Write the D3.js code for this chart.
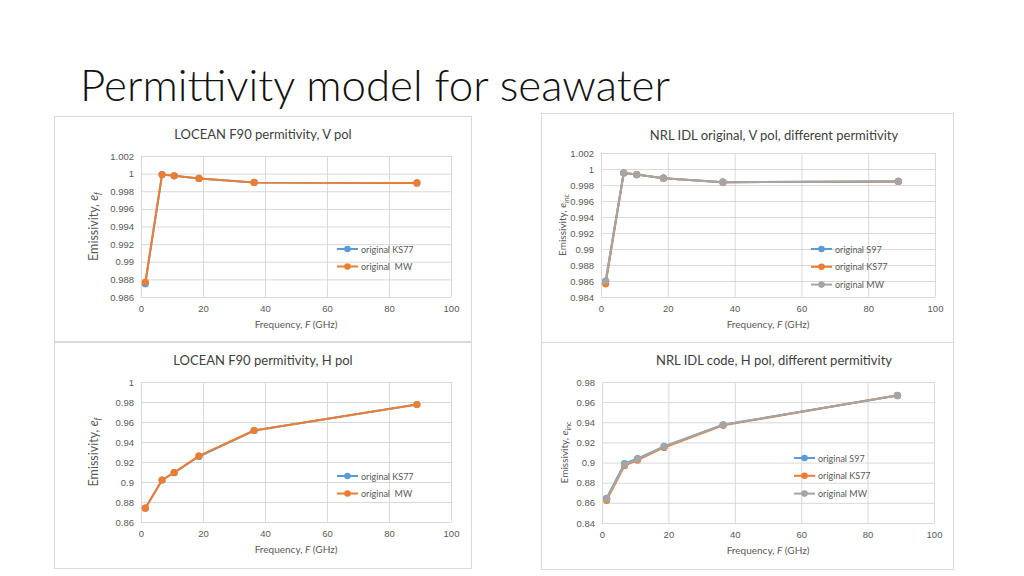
<!DOCTYPE html>
<html><head><meta charset="utf-8">
<script src="https://cdn.jsdelivr.net/npm/d3@7"></script>
<style>
html,body{margin:0;padding:0;background:#fff;}
svg{display:block;font-family:Lato,"Open Sans",sans-serif;}
</style></head>
<body><svg id="c" width="1024" height="576"></svg>
<script>
// ---- data ----
const freq = [1.4, 6.8, 10.7, 18.7, 36.5, 89];
const xTicks = [0, 20, 40, 60, 80, 100];

const locV_KS77 = [0.98750, 0.99990, 0.99975, 0.99945, 0.99900, 0.99895];
const locV_MW   = [0.98770, 0.99990, 0.99975, 0.99945, 0.99900, 0.99895];
const locV_ticks = [0.986, 0.988, 0.99, 0.992, 0.994, 0.996, 0.998, 1, 1.002];

const nrlV_S97  = [0.98600, 0.99950, 0.99930, 0.99885, 0.99835, 0.99845];
const nrlV_KS77 = [0.98565, 0.99950, 0.99930, 0.99885, 0.99835, 0.99845];
const nrlV_MW   = [0.98600, 0.99950, 0.99930, 0.99885, 0.99835, 0.99845];
const nrlV_ticks = [0.984, 0.986, 0.988, 0.99, 0.992, 0.994, 0.996, 0.998, 1, 1.002];

const locH_KS77 = [0.8738, 0.9020, 0.9093, 0.9255, 0.9515, 0.9775];
const locH_MW   = [0.8738, 0.9020, 0.9093, 0.9262, 0.9515, 0.9775];
const locH_ticks = [0.86, 0.88, 0.9, 0.92, 0.94, 0.96, 0.98, 1];

const nrlH_S97  = [0.8645, 0.8990, 0.9040, 0.9160, 0.9375, 0.9665];
const nrlH_KS77 = [0.8625, 0.8970, 0.9025, 0.9150, 0.9370, 0.9668];
const nrlH_MW   = [0.8640, 0.8980, 0.9035, 0.9158, 0.9375, 0.9665];
const nrlH_ticks = [0.84, 0.86, 0.88, 0.9, 0.92, 0.94, 0.96, 0.98];

const slideTitle = "Permittivity model for seawater";
const titles = ["LOCEAN F90 permitivity, V pol", "NRL IDL original, V pol, different permitivity",
                "LOCEAN F90 permitivity, H pol", "NRL IDL code, H pol, different permitivity"];

const BLUE = "#5B9BD5", ORANGE = "#ED7D31", GRAY = "#A5A5A5";

const svg = d3.select("#c");

svg.append("text").attr("x", 80).attr("y", 101)
  .attr("font-size", 44).attr("font-weight", 300).attr("fill", "#111")
  .attr("textLength", 590).attr("lengthAdjust", "spacingAndGlyphs")
  .text(slideTitle);

function panel(cfg) {
  const g = svg.append("g");
  g.append("rect").attr("x", cfg.box[0] + 0.5).attr("y", cfg.box[1] + 0.5)
    .attr("width", cfg.box[2] - cfg.box[0]).attr("height", cfg.box[3] - cfg.box[1])
    .attr("fill", "#fff").attr("stroke", "#d9d9d9");
  const [L, T, R, B] = cfg.plot;
  const x = d3.scaleLinear().domain([0, 100]).range([L, R]);
  const y = d3.scaleLinear().domain([cfg.yTicks[0], cfg.yTicks[cfg.yTicks.length - 1]]).range([B, T]);

  // gridlines
  const yAx = d3.axisLeft(y).tickValues(cfg.yTicks).tickSize(-(R - L)).tickPadding(7)
    .tickFormat(d => String(+d.toFixed(4)));
  const gy = g.append("g").attr("transform", `translate(${L},0)`).call(yAx);
  gy.select(".domain").remove();
  gy.selectAll("line").attr("stroke", "#d9d9d9");
  gy.selectAll("text").attr("fill", "#595959").attr("font-size", 9.5);

  const xAx = d3.axisBottom(x).tickValues(xTicks).tickSize(-(B - T)).tickPadding(8);
  const gx = g.append("g").attr("transform", `translate(0,${B})`).call(xAx);
  gx.select(".domain").remove();
  gx.selectAll("line").attr("stroke", "#d9d9d9");
  gx.selectAll("text").attr("fill", "#595959").attr("font-size", 9.5);

  // title
  g.append("text").attr("x", cfg.titleX).attr("y", cfg.titleY).attr("text-anchor", "middle")
    .attr("font-size", 13).attr("fill", "#404040").text(cfg.title);

  // x label
  const xl = g.append("text").attr("x", (L + R) / 2).attr("y", B + 31).attr("text-anchor", "middle")
    .attr("font-size", 10).attr("fill", "#595959");
  xl.append("tspan").text("Frequency, ");
  xl.append("tspan").attr("font-style", "italic").text("F");
  xl.append("tspan").text(" (GHz)");

  // y label
  const yl = g.append("text").attr("transform", `translate(${cfg.yLabX},${(T + B) / 2}) rotate(-90)`)
    .attr("text-anchor", "middle").attr("font-size", cfg.yLabSize).attr("fill", "#595959");
  yl.append("tspan").text("Emissivity, ");
  yl.append("tspan").attr("font-style", "italic").text("e");
  yl.append("tspan").attr("font-style", cfg.sub === "f" ? "italic" : "normal")
    .attr("font-size", cfg.yLabSize * 0.7).attr("dy", 3).text(cfg.sub);

  const line = d3.line().x((d, i) => x(freq[i])).y(d => y(d));
  cfg.series.forEach(s => {
    g.append("path").datum(s.values).attr("d", line).attr("fill", "none")
      .attr("stroke", s.color).attr("stroke-width", 2).attr("stroke-linejoin", "round");
    g.selectAll(null).data(s.values).enter().append("circle")
      .attr("cx", (d, i) => x(freq[i])).attr("cy", d => y(d)).attr("r", 3.6).attr("fill", s.color);
  });

  // legend
  cfg.series.forEach((s, i) => {
    const ly = cfg.leg[1] + i * cfg.legStep;
    g.append("line").attr("x1", cfg.leg[0]).attr("x2", cfg.leg[0] + 21).attr("y1", ly).attr("y2", ly)
      .attr("stroke", s.color).attr("stroke-width", 2);
    g.append("circle").attr("cx", cfg.leg[0] + 10.5).attr("cy", ly).attr("r", 3.3).attr("fill", s.color);
    g.append("text").attr("x", cfg.leg[0] + 24).attr("y", ly + 3.5).attr("font-size", 9)
      .attr("fill", "#595959").style("white-space", "pre").text(s.name);
  });
}

panel({box: [54, 116, 471, 341], plot: [141, 156, 451, 297], title: titles[0], titleX: 263, titleY: 139,
  yTicks: locV_ticks, yLabX: 98, yLabSize: 12.5, sub: "f", leg: [337, 249], legStep: 17.5,
  series: [{name: "original KS77", color: BLUE, values: locV_KS77},
           {name: "original  MW", color: ORANGE, values: locV_MW}]});

panel({box: [541, 113, 953, 342], plot: [601, 153, 935, 297], title: titles[1], titleX: 774, titleY: 140,
  yTicks: nrlV_ticks, yLabX: 566, yLabSize: 10, sub: "inc", leg: [811, 249], legStep: 17.8,
  series: [{name: "original S97", color: BLUE, values: nrlV_S97},
           {name: "original KS77", color: ORANGE, values: nrlV_KS77},
           {name: "original MW", color: GRAY, values: nrlV_MW}]});

panel({box: [54, 342, 471, 568], plot: [141, 382, 451, 522], title: titles[2], titleX: 263, titleY: 365,
  yTicks: locH_ticks, yLabX: 98, yLabSize: 12.5, sub: "f", leg: [337, 476], legStep: 17.5,
  series: [{name: "original KS77", color: BLUE, values: locH_KS77},
           {name: "original  MW", color: ORANGE, values: locH_MW}]});

panel({box: [541, 342, 953, 569], plot: [602, 382, 934, 523], title: titles[3], titleX: 774, titleY: 365,
  yTicks: nrlH_ticks, yLabX: 568, yLabSize: 10, sub: "inc", leg: [794, 458], legStep: 17.8,
  series: [{name: "original S97", color: BLUE, values: nrlH_S97},
           {name: "original KS77", color: ORANGE, values: nrlH_KS77},
           {name: "original MW", color: GRAY, values: nrlH_MW}]});
</script></body></html>
